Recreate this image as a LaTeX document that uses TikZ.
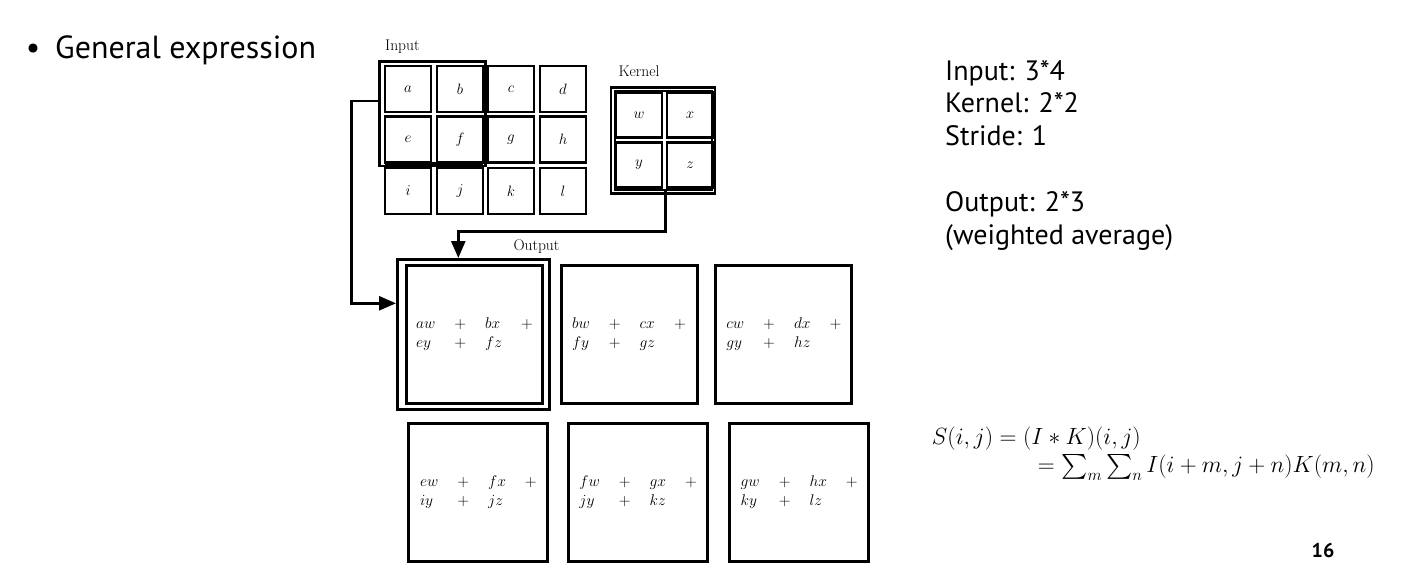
\RequirePackage{fix-cm}
\documentclass[tikz,border=0pt]{standalone}
\usepackage{fontspec}
\newfontfamily\slidefont{PT Sans}
\usepackage{amsmath}
\usetikzlibrary{arrows.meta,positioning,calc}

\begin{document}
\begin{tikzpicture}[x=1pt,y=-1pt,
    incell/.style={draw, line width=2.8pt, minimum width=46pt, minimum height=46pt, inner sep=0pt, font=\fontsize{15}{17}\selectfont},
    kcell/.style={incell, minimum height=45pt},
    outbox/.style={draw, line width=3pt, minimum width=136pt, minimum height=138pt, inner sep=0pt, font=\fontsize{15.5}{19}\selectfont},
    figlabel/.style={anchor=base west, inner sep=0pt, font=\fontsize{15.5}{18}\selectfont},
    slidetext/.style={anchor=north west, inner sep=0pt, align=left, font=\slidefont\fontsize{28}{32.5}\selectfont},
    flow/.style={line width=2.6pt, -{Triangle[length=17pt,width=14pt]}}
]
        \useasboundingbox[fill=white] (0,0) rectangle (1402,578);

        % Title
        \node[anchor=base, font=\slidefont\fontsize{32}{36}\selectfont] (bullet) at (33,58.3) {•};
        \node[anchor=base west, inner sep=0pt, font=\slidefont\fontsize{32}{36}\selectfont] (heading) at (55,58.3) {General expression};

        % Input
        \node[figlabel] (inlabel) at (385,50.7) {Input};
        \node[incell] (in-a) at (408,89) {$a$};
        \node[incell] (in-b) at (460,89) {$b$};
        \node[incell] (in-c) at (511,89) {$c$};
        \node[incell] (in-d) at (563,89) {$d$};
        \node[incell] (in-e) at (408,139.5) {$e$};
        \node[incell] (in-f) at (460,139.5) {$f$};
        \node[incell] (in-g) at (511,139.5) {$g$};
        \node[incell] (in-h) at (563,139.5) {$h$};
        \node[incell] (in-i) at (408,191) {$i$};
        \node[incell] (in-j) at (460,191) {$j$};
        \node[incell] (in-k) at (511,191) {$k$};
        \node[incell] (in-l) at (563,191) {$l$};

        % Window on the input
        \node[draw, line width=2.4pt, minimum width=106pt, minimum height=104pt] (window) at (432.5,113.7) {};
        \draw[line width=5pt] (385,164.8) -- (483,164.8);

        % Kernel
        \node[figlabel] (klabel) at (618.3,76.7) {Kernel};
        \node[draw, line width=2.4pt, minimum width=104pt, minimum height=106pt] (kernel) at (662.8,140.3) {};
        \node[draw, line width=1.8pt, minimum width=97pt, minimum height=99pt] (kinner) at (663.2,140.3) {};
        \node[kcell] (k-w) at (639,114.8) {$w$};
        \node[kcell] (k-x) at (690,114.8) {$x$};
        \node[kcell] (k-y) at (639,165) {$y$};
        \node[kcell] (k-z) at (690,165) {$z$};

        % Output
        \node[figlabel] (outlabel) at (513.3,250) {Output};
        \node[draw, line width=3pt, minimum width=152pt, minimum height=150pt] (focus) at (473.3,334.3) {};
        \node[outbox] (out-1) at (474.5,334.2) {$\arraycolsep=9.5pt\begin{array}{@{}llll@{}} aw & + & bx & + \\ ey & + & fz & \end{array}$};
        \node[outbox] (out-2) at (629,334.2) {$\arraycolsep=9.5pt\begin{array}{@{}llll@{}} bw & + & cx & + \\ fy & + & gz & \end{array}$};
        \node[outbox] (out-3) at (783.9,334.2) {$\arraycolsep=9.5pt\begin{array}{@{}llll@{}} cw & + & dx & + \\ gy & + & hz & \end{array}$};
        \node[outbox, minimum width=139pt] (out-4) at (478.4,492.5) {$\arraycolsep=9.5pt\begin{array}{@{}llll@{}} ew & + & fx & + \\ iy & + & jz & \end{array}$};
        \node[outbox, minimum width=139pt] (out-5) at (638.2,492.5) {$\arraycolsep=9.5pt\begin{array}{@{}llll@{}} fw & + & gx & + \\ jy & + & kz & \end{array}$};
        \node[outbox, minimum width=139pt] (out-6) at (799.2,492.5) {$\arraycolsep=9.5pt\begin{array}{@{}llll@{}} gw & + & hx & + \\ ky & + & lz & \end{array}$};

        % Arrows
        \coordinate (kbend) at (458.3,231.7);
        \coordinate (kin) at (458.3,258);
        \draw[flow] (k-z.south west) |- (kbend) -- (kin);
        \coordinate (wout) at (379.3,101);
        \coordinate (ibend) at (351.7,101);
        \coordinate (oin) at (396,303.3);
        \draw[flow] (wout) -- (ibend) |- (oin);

        % Notes
        \node[slidetext] (specs) at (945,60) {Input: 3*4\\Kernel: 2*2\\Stride: 1};
        \node[slidetext] (outspec) at (945,191.5) {Output: 2*3\\(weighted average)};

        % Formula
        \node[anchor=north west, inner sep=0pt, align=left, font=\fontsize{23.5}{28.5}\selectfont] (conv) at (931.7,426.4)
            {$S(i,j) = (I \ast K)(i,j)$\\\hspace*{106pt}$= \sum_m \sum_n I(i+m,j+n)K(m,n)$};

        % Page
        \node[font=\slidefont\bfseries\fontsize{20}{24}\selectfont] (page) at (1323,550) {16};
    \end{tikzpicture}
\end{document}
